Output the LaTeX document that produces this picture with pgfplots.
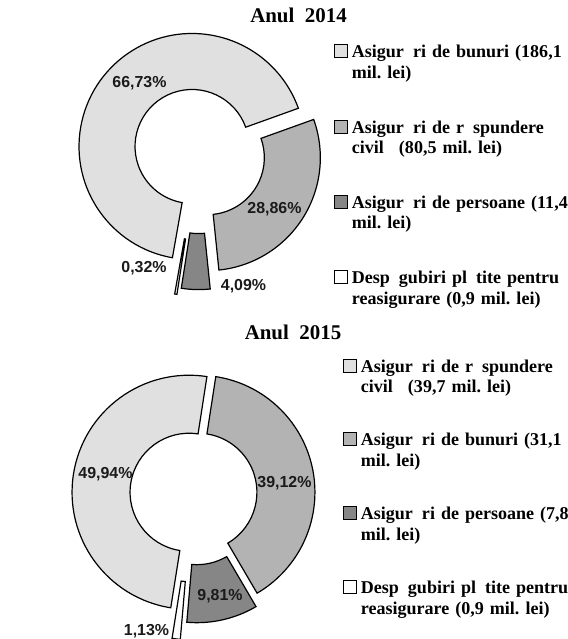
\documentclass[border=0pt]{standalone}
\usepackage{fontspec}
\setmainfont{Liberation Serif}
\newfontfamily\arialfont{Liberation Sans}
\usepackage{pgfplots}
\usepackage{pgfplotstable}
\pgfplotsset{compat=1.18}
\frenchspacing

\definecolor{cLight}{RGB}{224,224,224}
\definecolor{cMid}{RGB}{179,179,179}
\definecolor{cDark}{RGB}{134,134,134}
\definecolor{cText}{RGB}{26,26,26}

% Anul 2014 (percent of total, explosion in px)
\pgfplotstableread{
pct explode col
66.73 9.5 cLight
28.86 9.5 cMid
4.09 24 cDark
0.32 30.5 white
}\dataA
% Anul 2015
\pgfplotstableread{
pct explode col
49.94 5 cLight
39.12 4 cMid
9.81 13 cDark
1.13 30 white
}\dataB

% #1 table, #2 cx, #3 cy, #4 R, #5 r, #6 first slice angle (clockwise from 12)
\newcommand\donut[6]{%
 \pgfplotsextra{%
  \xdef\cum{0}%
  \pgfplotstablegetrowsof{#1}%
  \pgfmathtruncatemacro\lastrow{\pgfplotsretval-1}%
  \foreach \i in {0,...,\lastrow}{%
    \pgfplotstablegetelem{\i}{pct}\of{#1}\let\slpct\pgfplotsretval
    \pgfplotstablegetelem{\i}{explode}\of{#1}\let\slexp\pgfplotsretval
    \pgfplotstablegetelem{\i}{col}\of{#1}\let\slcol\pgfplotsretval
    \pgfmathsetmacro\aone{90-#6-3.6*\cum}%
    \pgfmathsetmacro\atwo{\aone-3.6*\slpct}%
    \pgfmathsetmacro\amid{(\aone+\atwo)/2}%
    \draw[fill=\slcol, draw=black, line width=1.2bp, line join=miter,
          shift={(axis cs:#2,#3)}, shift={(\amid:\slexp bp)}]
      (\aone:#4bp) arc[start angle=\aone, end angle=\atwo, radius=#4bp]
      -- (\atwo:#5bp) arc[start angle=\atwo, end angle=\aone, radius=#5bp] -- cycle;
    \pgfmathsetmacro\newcum{\cum+\slpct}\xdef\cum{\newcum}%
  }%
 }%
}

\pgfplotsset{
  sqlegend/.style={legend image code/.code={\draw[##1, line width=0.9bp] (0bp,6bp) rectangle (13bp,19bp);}},
  canvas/.style={x=1bp, y=1bp, y dir=reverse, xmin=0, xmax=568, ymin=0, ymax=639,
    hide axis, clip=false, at={(0,0)}, anchor=south west, legend cell align=left},
  legsty/.style={legend style={draw=none, fill=none, inner sep=0pt, outer sep=0pt,
    font=\bfseries\fontsize{18.1}{20.8}\selectfont, anchor=north west, column sep=4bp,
    nodes={inner sep=0pt, outer sep=0pt, text width=205bp, text height=13bp, text depth=25bp}}},
}
\newcommand\gap{\hspace{0.5em}}
\newcommand\pctlabel[3]{\node[font=\arialfont\bfseries\fontsize{16}{18}\selectfont, text=cText, anchor=base, inner sep=0pt] at (axis cs:#1,#2) {#3};}

\begin{document}
\begin{tikzpicture}
% ---------------- Anul 2014 ----------------
\begin{axis}[canvas, legsty, legend style={at={(axis cs:334,44.3)}, row sep=36.8bp}]
\addlegendimage{sqlegend, fill=cLight, draw=black}
\addlegendentry{\mbox{Asigur\gap ri de bunuri (186,1}\\\mbox{mil. lei)}}
\addlegendimage{sqlegend, fill=cMid, draw=black}
\addlegendentry{\mbox{Asigur\gap ri de r\gap spundere}\\\mbox{civil\gap\ (80,5 mil. lei)}}
\addlegendimage{sqlegend, fill=cDark, draw=black}
\addlegendentry{\mbox{Asigur\gap ri de persoane (11,4}\\\mbox{mil. lei)}}
\addlegendimage{sqlegend, fill=white, draw=black}
\addlegendentry{\mbox{Desp\gap gubiri pl\gap tite pentru}\\\mbox{reasigurare (0,9 mil. lei)}}
\donut{\dataA}{199.3}{152.6}{113}{57}{190}
\node[font=\bfseries\fontsize{21}{24}\selectfont, anchor=base, inner sep=0pt] at (axis cs:298.5,22) {Anul\ \ 2014};
\pctlabel{139.5}{87}{66,73\%}
\pctlabel{274.5}{213}{28,86\%}
\pctlabel{243.5}{290}{4,09\%}
\pctlabel{144}{272}{0,32\%}
\end{axis}
% ---------------- Anul 2015 ----------------
\begin{axis}[canvas, legsty, legend style={at={(axis cs:343,358.7)}, row sep=35.3bp}]
\addlegendimage{sqlegend, fill=cLight, draw=black}
\addlegendentry{\mbox{Asigur\gap ri de r\gap spundere}\\\mbox{civil\gap\ (39,7 mil. lei)}}
\addlegendimage{sqlegend, fill=cMid, draw=black}
\addlegendentry{\mbox{Asigur\gap ri de bunuri (31,1}\\\mbox{mil. lei)}}
\addlegendimage{sqlegend, fill=cDark, draw=black}
\addlegendentry{\mbox{Asigur\gap ri de persoane (7,8}\\\mbox{mil. lei)}}
\addlegendimage{sqlegend, fill=white, draw=black}
\addlegendentry{\mbox{Desp\gap gubiri pl\gap tite pentru}\\\mbox{reasigurare (0,9 mil. lei)}}
\donut{\dataB}{194}{493}{117}{59}{189}
\node[font=\bfseries\fontsize{21}{24}\selectfont, anchor=base, inner sep=0pt] at (axis cs:293,339) {Anul\ \ 2015};
\pctlabel{105.5}{478}{49,94\%}
\pctlabel{284.5}{487}{39,12\%}
\pctlabel{220}{600}{9,81\%}
\pctlabel{146.5}{635}{1,13\%}
\end{axis}
\pgfresetboundingbox
\path[use as bounding box] (0,0) rectangle (568bp,639bp);
\end{tikzpicture}
\end{document}
